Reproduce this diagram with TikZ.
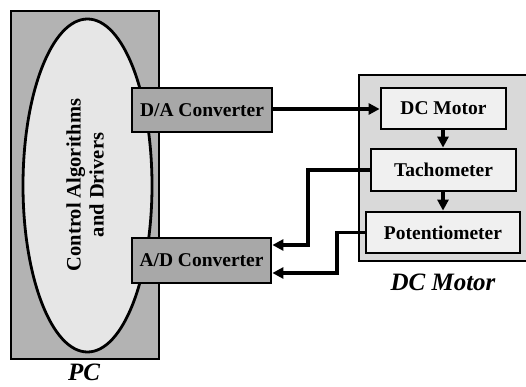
\documentclass[tikz,border=0pt]{standalone}
\usepackage{fontspec}
\setmainfont{Liberation Serif}
\usetikzlibrary{arrows.meta,shapes.geometric}
\definecolor{pcgray}{HTML}{B3B3B3}
\definecolor{ellgray}{HTML}{E6E6E6}
\definecolor{convgray}{HTML}{A8A8A8}
\definecolor{dcgray}{HTML}{D9D9D9}
\definecolor{boxgray}{HTML}{F0F0F0}
\tikzset{
  bline/.style={line width=2.8pt, draw=black},
  conv/.style={bline, fill=convgray, inner sep=0pt, font=\fontsize{19.5}{22}\selectfont\bfseries},
  inbox/.style={bline, fill=boxgray, inner sep=0pt, font=\fontsize{19.5}{22}\selectfont\bfseries},
  conn/.style={line width=3.2pt, -{Triangle[length=11pt,width=11pt]}},
  lab/.style={font=\fontsize{25}{28}\selectfont\bfseries\itshape}
}
\begin{document}
\begin{tikzpicture}[x=1pt,y=-1pt]
\useasboundingbox (0,0) rectangle (526,387);
% PC
\node[bline, fill=pcgray, minimum width=148pt, minimum height=348pt, inner sep=0pt] (pc) at (85,185) {};
\node[bline, fill=ellgray, ellipse, minimum width=129pt, minimum height=333pt, inner sep=0pt] (ell) at (87.5,185.5) {};
\node[rotate=90, align=center, font=\fontsize{20.5}{23}\selectfont\bfseries] (ctrl) at (85,185) {Control Algorithms\\and Drivers};
\node[conv, minimum width=140pt, minimum height=44pt] (da) at (202,110) {D/A Converter};
\node[conv, minimum width=139pt, minimum height=45pt] (ad) at (201.5,260.5) {A/D Converter};
\node[lab] (pclab) at (84,372) {PC};
% DC motor block
\node[bline, fill=dcgray, minimum width=168pt, minimum height=186pt, inner sep=0pt] (dc) at (443,168) {};
\node[inbox, minimum width=125pt, minimum height=41pt] (mot) at (443.5,108.5) {DC Motor};
\node[inbox, minimum width=145pt, minimum height=42pt] (tach) at (443.5,170) {Tachometer};
\node[inbox, minimum width=154pt, minimum height=41pt] (pot) at (443,232.5) {Potentiometer};
\node[lab] (dclab) at (443,282) {DC Motor};
% connectors
\draw[conn] (da.east |- 0,109) -- (mot.west |- 0,109);
\draw[conn] (mot.south -| 443,0) -- (tach.north -| 443,0);
\draw[conn] (tach.south -| 443,0) -- (pot.north -| 443,0);
\draw[conn] (tach.west) -| (308,245) -- (ad.east |- 0,245);
\draw[conn] (pot.west) -| (337,273) -- (ad.east |- 0,273);
\end{tikzpicture}
\end{document}
